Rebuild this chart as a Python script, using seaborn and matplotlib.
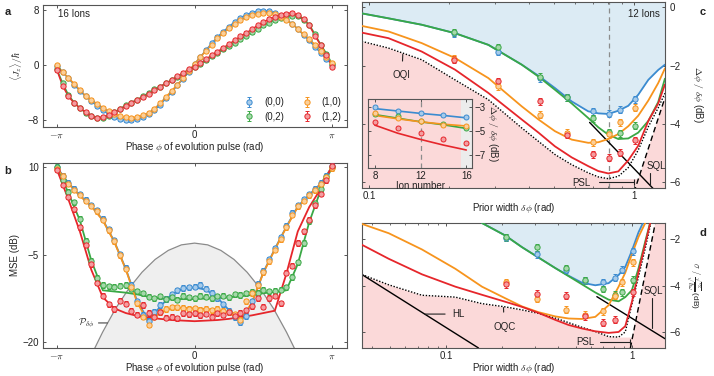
import numpy as np
import matplotlib
matplotlib.use("Agg")
import matplotlib.pyplot as plt
import matplotlib.colors as mcolors
import seaborn as sns
from matplotlib.ticker import FixedLocator, NullFormatter

# -----------------------------
# Data
# -----------------------------
labels = ["(0,0)", "(0,2)", "(1,0)", "(1,2)"]
colors = ["#3b8bd0", "#3aa845", "#f7941d", "#e6262b"]

# evolution phase grid (49 settings from -pi to pi)
phi = np.linspace(-np.pi, np.pi, 49)

# panel a: <Jz>/hbar
jz_00 = [-0.1, -1.0, -1.9, -2.8, -3.7, -4.5, -5.2, -5.9, -6.5, -7.1, -7.5, -7.8, -7.95, -7.95, -7.8, -7.5,
         -7.1, -6.5, -5.7, -4.8, -3.9, -2.9, -1.95, -0.9, 0.15, 1.2, 2.2, 3.2, 4.1, 4.9, 5.6, 6.3, 6.9,
         7.3, 7.65, 7.85, 7.9, 7.85, 7.6, 7.2, 6.7, 6.0, 5.3, 4.4, 3.6, 2.7, 1.8, 0.9, 0.1]
jz_02 = [-0.6, -2.6, -4.3, -5.4, -6.2, -6.9, -7.4, -7.7, -7.6, -7.3, -6.8, -6.3, -5.8, -5.4, -5.0, -4.5,
         -4.0, -3.5, -3.1, -2.6, -2.15, -1.7, -1.2, -0.7, -0.3, 0.2, 0.7, 1.3, 1.8, 2.3, 2.8, 3.3, 3.8,
         4.3, 4.8, 5.3, 5.8, 6.2, 6.6, 6.9, 7.1, 7.2, 7.1, 6.6, 5.9, 4.5, 3.0, 1.7, 0.2]
jz_10 = [0.0, -0.95, -1.85, -2.65, -3.6, -4.4, -5.0, -5.6, -6.15, -6.7, -7.0, -7.4, -7.55, -7.6, -7.5, -7.25,
         -6.9, -6.3, -5.5, -4.6, -3.7, -2.8, -1.9, -0.8, 0.2, 1.2, 2.1, 3.0, 3.9, 4.7, 5.4, 5.95, 6.6,
         7.0, 7.35, 7.5, 7.6, 7.6, 7.4, 7.0, 6.6, 6.0, 5.3, 4.5, 3.8, 3.0, 2.1, 1.2, 0.3]
jz_12 = [-0.7, -3.0, -4.5, -5.5, -6.2, -6.8, -7.3, -7.6, -7.5, -7.25, -6.8, -6.4, -5.9, -5.4, -5.0, -4.6,
         -4.1, -3.6, -3.1, -2.6, -2.15, -1.6, -1.1, -0.6, -0.2, 0.3, 0.85, 1.5, 2.0, 2.5, 3.1, 3.6, 4.2,
         4.7, 5.2, 5.8, 6.25, 6.7, 7.0, 7.35, 7.5, 7.6, 7.3, 6.7, 5.8, 4.3, 2.9, 1.5, -0.2]

# panel b: MSE (dB), measured
mse_00 = [10.0, 8.6, 7.3, 6.3, 5.4, 4.4, 3.5, 2.6, 1.2, -0.6, -2.5, -4.9, -7.2, -10.2, -13.0, -15.3, -16.3,
          -14.8, -13.6, -12.6, -11.8, -11.1, -10.7, -10.6, -10.5, -10.2, -10.8, -11.5, -12.5, -13.5, -14.6, -15.7, -16.6,
          -15.5, -13.0, -10.0, -7.8, -5.8, -3.9, -2.0, 0.0, 2.2, 3.5, 4.5, 5.4, 6.3, 7.3, 8.6, 10.2]
mse_02 = [10.1, 7.8, 5.8, 4.0, 1.2, -2.6, -6.0, -9.0, -10.2, -10.4, -10.5, -10.3, -10.2, -10.8, -11.3, -11.6, -12.2,
          -12.5, -12.1, -12.6, -12.3, -12.7, -12.0, -12.3, -12.5, -12.0, -12.2, -12.4, -12.1, -12.0, -12.3, -11.8, -11.9,
          -11.6, -11.4, -11.5, -11.0, -11.3, -11.2, -11.0, -10.6, -8.8, -6.3, -3.0, 0.8, 3.8, 6.3, 8.4, 10.0]
mse_10 = [9.8, 8.5, 7.2, 6.2, 5.3, 4.3, 3.4, 2.5, 1.0, -0.8, -2.7, -5.1, -7.4, -10.5, -13.3, -15.6, -17.0,
          -15.6, -14.8, -14.3, -14.0, -14.0, -14.1, -14.3, -14.2, -14.4, -14.3, -14.5, -14.3, -14.6, -14.8, -15.2, -16.2,
          -13.0, -11.6, -10.2, -8.0, -6.1, -4.1, -2.3, -0.3, 1.9, 3.3, 4.3, 5.2, 6.1, 7.1, 8.4, 9.9]
mse_12 = [9.6, 7.0, 5.0, 2.8, -0.3, -3.3, -6.6, -9.8, -12.0, -13.5, -14.3, -12.9, -13.4, -14.6, -15.3, -13.6, -15.0,
          -15.6, -14.9, -15.8, -15.6, -15.9, -15.0, -15.2, -15.0, -15.4, -15.1, -15.6, -15.0, -15.3, -14.9, -15.5, -15.0,
          -14.5, -13.8, -12.5, -13.9, -12.4, -12.0, -13.3, -8.1, -6.9, -3.0, -1.0, 1.0, 3.5, 5.5, 7.8, 10.3]

# panel b: theory curves on every second phase setting
phi_fit = phi[::2]
fit_00 = [10.0, 7.3, 5.2, 3.4, 1.0, -2.7, -7.4, -13.0, -16.3, -13.9, -11.8, -10.8, -10.6,
          -11.0, -12.4, -14.5, -16.6, -13.3, -8.0, -4.0, -0.2, 3.3, 5.3, 7.2, 10.1]
fit_02 = [10.0, 5.6, 0.9, -6.0, -11.1, -11.3, -11.5, -11.8, -12.2, -12.5, -12.6, -12.6, -12.6,
          -12.5, -12.4, -12.3, -12.1, -11.9, -11.6, -11.4, -11.1, -6.6, 0.6, 6.1, 10.0]
fit_10 = [9.9, 7.2, 5.1, 3.3, 0.9, -2.8, -7.5, -13.2, -16.7, -14.9, -14.2, -14.1, -14.2,
          -14.3, -14.5, -14.9, -16.3, -13.2, -8.1, -4.1, -0.3, 3.2, 5.2, 7.1, 10.0]
fit_12 = [9.6, 4.5, -1.0, -7.6, -12.3, -14.2, -15.0, -15.5, -15.8, -16.0, -16.2, -16.3, -16.4,
          -16.3, -16.2, -16.0, -15.7, -15.4, -15.0, -14.6, -8.3, -1.0, 3.2, 6.3, 10.3]

# panel b: prior distribution (dB)
prior_phi = [-2.4, -2.1, -1.8, -1.5, -1.2, -0.9, -0.6, -0.3, 0.0, 0.3, 0.6, 0.9, 1.2, 1.5, 1.8, 2.1, 2.4]
prior_db = [-22.9, -18.3, -14.2, -10.8, -8.0, -5.8, -4.25, -3.3, -3.0, -3.3, -4.25, -5.8, -8.0, -10.8, -14.2, -18.3, -22.9]

# panels c, d: measured points vs prior width
width_pts = [0.21, 0.307, 0.442, 0.558, 0.70, 0.805, 0.885, 1.01]
c_00 = [-0.89, -1.52, -2.43, -3.09, -3.57, -3.65, -3.51, -3.15]
c_02 = [-0.86, -1.38, -2.39, -3.08, -3.80, -4.29, -4.33, -4.06]
c_10 = [-1.77, -2.71, -3.68, -4.31, -4.63, -4.35, -3.95, -3.45]
c_12 = [-1.80, -2.54, -3.23, -4.37, -5.05, -5.17, -4.99, -4.56]
d_00 = [-1.95, -2.65, -3.32, -3.80, -3.86, -3.66, -3.32, -2.53]
d_02 = [-1.93, -2.36, -3.25, -3.78, -4.15, -4.39, -4.29, -3.75]
d_10 = [-3.86, -4.58, -5.04, -5.25, -5.11, -4.45, -3.86, -3.00]
d_12 = [-3.94, -4.35, -4.44, -5.33, -5.61, -5.47, np.nan, -4.30]

# panel c: theory curves
width_c = [0.0938, 0.1183, 0.158, 0.211, 0.282, 0.377, 0.436, 0.503, 0.582, 0.672, 0.734, 0.800,
           0.873, 0.952, 1.038, 1.133, 1.235, 1.309]
cfit_00 = [-0.21, -0.38, -0.60, -0.89, -1.29, -1.97, -2.35, -2.77, -3.23, -3.57, -3.64, -3.66,
           -3.55, -3.38, -3.00, -2.49, -2.15, -1.97]
cfit_02 = [-0.21, -0.38, -0.60, -0.89, -1.29, -1.97, -2.38, -2.83, -3.30, -3.80, -4.12, -4.37,
           -4.52, -4.50, -4.30, -3.90, -3.25, -2.45]
cfit_10 = [-0.64, -0.83, -1.23, -1.74, -2.43, -3.40, -3.85, -4.25, -4.54, -4.65, -4.63, -4.52,
           -4.35, -4.08, -3.72, -3.20, -2.60, -2.10]
cfit_12 = [-0.87, -1.06, -1.52, -2.14, -2.94, -3.85, -4.30, -4.77, -5.15, -5.45, -5.62, -5.70,
           -5.63, -5.25, -4.75, -3.90, -3.30, -2.65]
oqi_c = [-1.17, -1.40, -1.80, -2.49, -3.17, -4.14, -4.60, -5.05, -5.40, -5.68, -5.82, -5.88,
         -5.80, -5.50, -4.90, -4.10, -3.45, -2.95]
sql_c_x, sql_c_y = [0.68, 1.22], [-3.95, -6.35]
psl_c_x, psl_c_y = [1.0, 1.31], [-6.35, -3.1]

# panel d: theory curves
width_d = [0.0352, 0.0490, 0.0740, 0.1118, 0.1555, 0.2076, 0.2552, 0.3136, 0.3855, 0.4548, 0.5364,
           0.6326, 0.7462, 0.8444, 0.9171, 0.9959, 1.0817, 1.1748, 1.2758, 1.3857, 1.5048]
dfit_00 = [np.nan, np.nan, np.nan, np.nan, -1.31, -1.85, -2.35, -2.80, -3.25, -3.58, -3.88,
           -3.99, -3.90, -3.55, -3.20, -2.50, -1.70, -1.10, np.nan, np.nan, np.nan]
dfit_02 = [np.nan, np.nan, np.nan, np.nan, -1.31, -1.85, -2.35, -2.80, -3.25, -3.60, -3.95,
           -4.30, -4.61, -4.68, -4.50, -4.20, -3.25, -2.10, -1.00, np.nan, np.nan]
dfit_10 = [-1.35, -1.75, -2.45, -3.28, -4.05, -4.55, -4.90, -5.15, -5.33, -5.42, -5.44,
           -5.35, -4.85, -4.05, -3.45, -2.65, -1.90, -1.31, -0.70, -0.10, 0.50]
dfit_12 = [-2.25, -2.85, -3.52, -4.05, -4.40, -4.70, -4.92, -5.18, -5.48, -5.70, -5.85,
           -5.97, -6.04, -6.00, -5.75, -4.70, -3.40, -2.20, -1.00, 0.00, 0.80]
oqc_d = [-3.53, -3.97, -4.42, -4.50, -4.78, -4.92, -5.05, -5.20, -5.40, -5.60, -5.80,
         -5.98, -6.20, -6.22, -6.00, -4.80, -3.60, -2.40, -1.10, 0.00, 1.00]
hl_d_x, hl_d_y = [0.0352, 0.149], [-3.53, -6.69]
sql_d_x, sql_d_y = [0.645, 1.5], [-4.48, -6.29]
psl_d_x, psl_d_y = [0.977, 1.33], [-6.69, -1.31]

# inset: ion number scan
ions = [8, 10, 12, 14, 16]
ins_00 = [-3.05, -3.33, -3.55, -3.69, -3.88]
ins_02 = [-3.61, -3.78, -4.19, -4.47, -4.75]
ins_10 = [-3.55, -3.90, -4.17, -4.50, -4.61]
ins_12 = [-4.30, -4.75, -5.17, -5.72, -6.05]
insfit_00 = [-3.15, -3.35, -3.55, -3.72, -3.92]
insfit_02 = [-3.65, -3.95, -4.25, -4.50, -4.80]
insfit_10 = [-3.72, -4.00, -4.25, -4.45, -4.60]
insfit_12 = [-4.53, -5.20, -5.72, -6.19, -6.60]

# -----------------------------
# Style
# -----------------------------
sns.set_theme(style="ticks")
plt.rcParams["font.family"] = ["Liberation Sans", "DejaVu Sans"]
plt.rcParams.update({
    "mathtext.fontset": "cm",
    "font.size": 7, "axes.labelsize": 7, "xtick.labelsize": 7, "ytick.labelsize": 7,
    "xtick.direction": "in", "ytick.direction": "in",
    "xtick.major.size": 2.5, "ytick.major.size": 2.5,
    "xtick.minor.size": 1.4, "ytick.minor.size": 1.4,
    "xtick.major.width": 0.7, "ytick.major.width": 0.7,
    "xtick.minor.width": 0.6, "ytick.minor.width": 0.6,
    "xtick.major.pad": 2, "ytick.major.pad": 3,
    "axes.edgecolor": "#555555", "axes.linewidth": 0.8,
    "xtick.color": "#555555", "ytick.color": "#555555",
    "xtick.labelcolor": "#222222", "ytick.labelcolor": "#222222",
    "axes.labelcolor": "#222222", "text.color": "#222222",
})

LIGHT_BLUE = "#dcebf4"
PINK = "#fbd9d9"
W, H = 714, 376


def tint(c, f=0.55):
    rgb = np.array(mcolors.to_rgb(c))
    return tuple(rgb * (1 - f) + f)


def points(ax, x, y, err, col, label=None, ms=3.8):
    ax.errorbar(x, y, yerr=err, fmt="o", ms=ms, mfc=tint(col), mec=col, mew=0.7,
                ecolor=col, elinewidth=0.7, capsize=1.3, capthick=0.7,
                label=label, zorder=4)


def curve(ax, x, y, col, lw=1.3, **kw):
    sns.lineplot(x=np.asarray(x, float), y=np.asarray(y, float), ax=ax, color=col, lw=lw,
                 estimator=None, sort=False, legend=False, zorder=kw.pop("zorder", 3), **kw)


def box(ax):
    ax.tick_params(which="both", top=True, right=True, bottom=True, left=True)


fig = plt.figure(figsize=(W / 100, H / 100), dpi=100)

# -----------------------------
# a. <Jz> vs phase
# -----------------------------
ax_a = fig.add_axes([43 / W, 1 - 127 / H, 304 / W, 122 / H])
for lab, vals, col in zip(labels, [jz_00, jz_02, jz_10, jz_12], colors):
    curve(ax_a, phi, vals, col, lw=1.1)
    points(ax_a, phi, vals, 0.25, col, label=lab)
ax_a.set_xlim(-3.46, 3.48)
ax_a.set_ylim(-8.95, 8.75)
ax_a.set_xticks([-np.pi, 0, np.pi], [r"$-\pi$", "0", r"$\pi$"])
ax_a.set_yticks([-8, 0, 8])
ax_a.set_ylabel(r"$\langle J_z\rangle/\hbar$", labelpad=2)
ax_a.set_xlabel(r"Phase $\phi$ of evolution pulse (rad)", labelpad=0)
ax_a.text(0.049, 0.925, "16 Ions", transform=ax_a.transAxes, ha="left", va="center")
ax_a.legend(loc="lower right", ncol=2, frameon=False, fontsize=7, columnspacing=1.8,
            handletextpad=0.9, labelspacing=0.45, borderaxespad=0.15, handlelength=1.2)
box(ax_a)

# -----------------------------
# b. MSE vs phase
# -----------------------------
ax_b = fig.add_axes([43 / W, 1 - 348 / H, 304 / W, 185 / H])
ax_b.fill_between(prior_phi, -30, prior_db, color="#efefef", lw=0, zorder=0)
curve(ax_b, prior_phi, prior_db, "#8a8a8a", lw=0.9, zorder=1)
for lab, vals, fit, col in zip(labels, [mse_00, mse_02, mse_10, mse_12],
                               [fit_00, fit_02, fit_10, fit_12], colors):
    curve(ax_b, phi_fit, fit, col, lw=1.3)
    points(ax_b, phi, vals, 0.45, col)
ax_b.set_xlim(-3.46, 3.48)
ax_b.set_ylim(-21.0, 10.75)
ax_b.set_xticks([-np.pi, 0, np.pi], [r"$-\pi$", "0", r"$\pi$"])
ax_b.set_yticks([-20, -5, 10])
ax_b.set_ylabel("MSE (dB)", labelpad=2)
ax_b.set_xlabel(r"Phase $\phi$ of evolution pulse (rad)", labelpad=0)
ax_b.annotate(r"$\mathcal{P}_{\delta\phi}$", xy=(-1.99, -16.7), xytext=(-2.3, -16.7),
              ha="right", va="center", fontsize=7,
              arrowprops=dict(arrowstyle="-", lw=0.8, color="#444444", shrinkA=1, shrinkB=0))
box(ax_b)


def log_axis(ax, xlim, ylim, yticks, ylabel, pad=18, size=7):
    ax.set_xscale("log")
    ax.set_xlim(*xlim)
    ax.set_ylim(*ylim)
    ax.xaxis.set_major_locator(FixedLocator([0.1, 1.0]))
    ax.set_xticklabels(["0.1", "1"])
    ax.xaxis.set_minor_formatter(NullFormatter())
    ax.set_yticks(yticks)
    ax.tick_params(which="both", top=True, bottom=True, left=True, right=True,
                   labelleft=False, labelright=True)
    ax.yaxis.set_label_position("right")
    ax.set_ylabel(ylabel, rotation=270, labelpad=pad, fontsize=size)
    ax.set_xlabel(r"Prior width $\delta\phi$ (rad)", labelpad=0)


def shade(ax, xs, upper, bound, edge_x, edge_y, top, bottom, right):
    ax.fill_between(xs, np.fmin(np.asarray(upper, float), top), top, color=LIGHT_BLUE, lw=0, zorder=0)
    b = np.array(bound, float)
    i = int(np.argmin(b))
    b[i:] = b[i]
    ax.fill_between(xs, bottom, b, color=PINK, lw=0, zorder=0)
    ax.fill([edge_x[0], edge_x[1], right, right], [edge_y[0], edge_y[1], edge_y[1], bottom],
            color=PINK, lw=0, zorder=0)


# -----------------------------
# c. Delta phi / delta phi vs prior width
# -----------------------------
ax_c = fig.add_axes([362 / W, 1 - 188 / H, 303 / W, 186 / H])
c_top, c_bot, c_right = 0.18, -6.2, 1.31
shade(ax_c, width_c, cfit_00, oqi_c, psl_c_x, psl_c_y, c_top, c_bot, c_right)
ax_c.axvline(0.805, color="#8c8c8c", lw=0.9, ls=(0, (4, 3)), zorder=1)
curve(ax_c, sql_c_x, sql_c_y, "black", lw=1.0, zorder=1)
curve(ax_c, psl_c_x, psl_c_y, "black", lw=1.0, zorder=1, ls=(0, (4, 2.5)))
curve(ax_c, width_c, oqi_c, "black", lw=1.0, zorder=2, ls=(0, (1, 1.2)))
for vals, fit, col in zip([c_00, c_02, c_10, c_12], [cfit_00, cfit_02, cfit_10, cfit_12], colors):
    curve(ax_c, width_c, fit, col, lw=1.3)
    points(ax_c, width_pts, vals, 0.12, col)
log_axis(ax_c, (0.094, c_right), (c_bot, c_top), [0, -2, -4, -6], r"$\Delta\phi\ /\ \delta\phi$ (dB)")
ax_c.text(0.983, 0.935, "12 Ions", transform=ax_c.transAxes, ha="right", va="center")
ax_c.annotate("OQI", xy=(0.134, -1.62), xytext=(0.133, -2.32), ha="center", va="center",
              arrowprops=dict(arrowstyle="-", lw=0.8, color="#222222", shrinkA=4, shrinkB=0))
ax_c.text(0.635, -6.02, "PSL", ha="center", va="center")
ax_c.plot([0.74, 1.0], [-6.0, -6.0], color="#222222", lw=0.8, zorder=2)
ax_c.plot([1.0], [-6.0], marker="|", ms=4, color="#222222", mew=0.8, zorder=2)
ax_c.text(1.115, -5.46, "SQL", ha="left", va="center")
ax_c.plot([1.149, 1.149], [-5.7, -6.1], color="#222222", lw=0.8, zorder=2)

# inset: ion number
ax_i = fig.add_axes([368 / W, 1 - 168 / H, 104 / W, 69 / H])
ax_i.set_facecolor("none")
ax_i.axvspan(15.5, 16.6, color="#ececec", lw=0, zorder=0)
ax_i.axvline(12, color="#8c8c8c", lw=0.9, ls=(0, (4, 3)), zorder=1)
for vals, fit, col in zip([ins_00, ins_02, ins_10, ins_12],
                          [insfit_00, insfit_02, insfit_10, insfit_12], colors):
    curve(ax_i, ions, fit, col, lw=1.2)
    points(ax_i, ions, vals, 0.08, col, ms=3.6)
ax_i.set_xlim(7.4, 16.5)
ax_i.set_ylim(-8.1, -2.35)
ax_i.set_xticks([8, 12, 16])
ax_i.set_yticks([-3, -5, -7])
ax_i.tick_params(axis="x", which="both", top=True, bottom=True, pad=2)
ax_i.tick_params(axis="y", which="both", left=True, right=True,
                 labelleft=False, labelright=True, pad=1.5)
ax_i.yaxis.set_label_position("right")
ax_i.set_ylabel(r"$\Delta\phi\ /\ \delta\phi$ (dB)", rotation=270, labelpad=11)
ax_i.set_xlabel("Ion number", labelpad=0)

# -----------------------------
# d. sigma ratio vs prior width
# -----------------------------
ax_d = fig.add_axes([362 / W, 1 - 348 / H, 303 / W, 125 / H])
d_top, d_bot, d_right = -1.31, -6.69, 1.5
shade(ax_d, width_d, dfit_00, oqc_d, psl_d_x, psl_d_y, d_top, d_bot, d_right)
curve(ax_d, hl_d_x, hl_d_y, "black", lw=1.0, zorder=1)
curve(ax_d, sql_d_x, sql_d_y, "black", lw=1.0, zorder=1)
curve(ax_d, psl_d_x, psl_d_y, "black", lw=1.0, zorder=1, ls=(0, (4, 2.5)))
curve(ax_d, width_d, oqc_d, "black", lw=1.0, zorder=2, ls=(0, (1, 1.2)))
for vals, fit, col in zip([d_00, d_02, d_10, d_12], [dfit_00, dfit_02, dfit_10, dfit_12], colors):
    curve(ax_d, width_d, fit, col, lw=1.3)
    points(ax_d, width_pts, vals, 0.15, col)
log_axis(ax_d, (0.0352, d_right), (d_bot, d_top), [-2, -4, -6],
         r"$\sigma\ /\ \frac{\sqrt{\epsilon_\Sigma}}{\sqrt{\hbar\omega}}$ (dB)", pad=16, size=6)
ax_d.annotate("HL", xy=(0.0765, -5.23), xytext=(0.108, -5.23), ha="left", va="center",
              arrowprops=dict(arrowstyle="-", lw=0.8, color="#222222", shrinkA=3, shrinkB=0))
ax_d.annotate("OQC", xy=(0.203, -4.95), xytext=(0.205, -5.80), ha="center", va="center",
              arrowprops=dict(arrowstyle="-", lw=0.8, color="#222222", shrinkA=5, shrinkB=0))
ax_d.text(0.558, -6.43, "PSL", ha="center", va="center")
ax_d.plot([0.673, 0.977], [-6.43, -6.43], color="#222222", lw=0.8, zorder=2)
ax_d.plot([0.977], [-6.43], marker="|", ms=4, color="#222222", mew=0.8, zorder=2)
ax_d.text(1.15, -4.25, "SQL", ha="left", va="center")
ax_d.plot([1.275, 1.275], [-4.55, -5.85], color="#222222", lw=0.8, zorder=2)

# panel letters
for x, y, s in [(8, 12, "a"), (8, 171, "b"), (703, 12, "c"), (703, 233, "d")]:
    fig.text(x / W, 1 - y / H, s, fontsize=8, fontweight="bold", ha="center", va="center")

fig.savefig("out.png", dpi=100)
